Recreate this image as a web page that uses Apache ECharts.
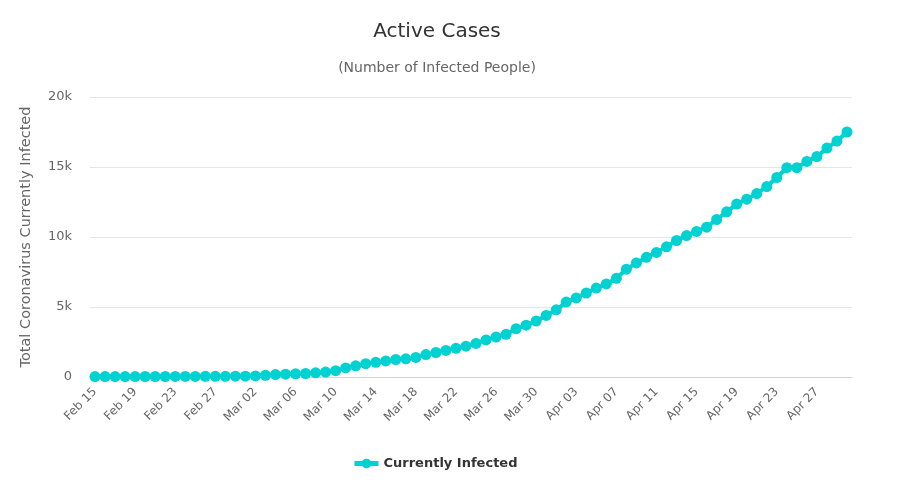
<!DOCTYPE html>
<html>
<head>
<meta charset="utf-8">
<script src="https://cdn.jsdelivr.net/npm/echarts@6/dist/echarts.min.js"></script>
<style>
html,body{margin:0;padding:0;background:#fff;}
#chart{width:900px;height:497px;}
</style>
</head>
<body>
<div id="chart"></div>
<script>
const categories = [
 'Feb 15','Feb 16','Feb 17','Feb 18','Feb 19','Feb 20','Feb 21','Feb 22','Feb 23','Feb 24','Feb 25','Feb 26','Feb 27','Feb 28','Feb 29',
 'Mar 01','Mar 02','Mar 03','Mar 04','Mar 05','Mar 06','Mar 07','Mar 08','Mar 09','Mar 10','Mar 11','Mar 12','Mar 13','Mar 14','Mar 15','Mar 16','Mar 17','Mar 18','Mar 19','Mar 20','Mar 21','Mar 22','Mar 23','Mar 24','Mar 25','Mar 26','Mar 27','Mar 28','Mar 29','Mar 30','Mar 31',
 'Apr 01','Apr 02','Apr 03','Apr 04','Apr 05','Apr 06','Apr 07','Apr 08','Apr 09','Apr 10','Apr 11','Apr 12','Apr 13','Apr 14','Apr 15','Apr 16','Apr 17','Apr 18','Apr 19','Apr 20','Apr 21','Apr 22','Apr 23','Apr 24','Apr 25','Apr 26','Apr 27','Apr 28','Apr 29','Apr 30'
];
const currentlyInfected = [
 30,30,30,30,30,35,35,35,40,40,40,45,45,50,55,
 60,80,120,170,200,230,250,300,350,450,650,800,950,1050,1150,1250,1300,1400,1600,1750,1900,2050,2200,2400,2650,2850,3050,3450,3700,4000,4400,
 4800,5350,5650,6000,6350,6650,7050,7700,8150,8550,8900,9300,9750,10100,10400,10700,11250,11800,12350,12700,13100,13600,14250,14950,14950,15400,15750,16350,16850,17500
];
const yTicks = [0, 5000, 10000, 15000, 20000];
const tickLabels = {0:'0',5000:'5k',10000:'10k',15000:'15k',20000:'20k'};

const chart = echarts.init(document.getElementById('chart'), null, {renderer:'canvas'});
const FONT = '"DejaVu Sans", Verdana, sans-serif';
chart.setOption({
  animation: false,
  backgroundColor: '#ffffff',
  textStyle: {fontFamily: FONT},
  title: [
    {text: 'Active Cases', left: 432, top: 17, textAlign: 'center',
     textStyle: {fontFamily: FONT, fontSize: 20, fontWeight: 'normal', color: '#333333'}},
    {text: '(Number of Infected People)', left: 432, top: 56, textAlign: 'center',
     textStyle: {fontFamily: FONT, fontSize: 14, fontWeight: 'normal', color: '#666666'}}
  ],
  legend: {
    bottom: 22, left: 347,
    itemWidth: 24, itemHeight: 12, itemGap: 5,
    textStyle: {fontFamily: FONT, fontSize: 13, fontWeight: 'bold', color: '#333333'},
    data: [{name: 'Currently Infected', itemStyle: {color: '#00d1d1'}, lineStyle: {width: 5, color: '#00d1d1'}}]
  },
  grid: {left: 90, right: 48, top: 97, bottom: 120, containLabel: false},
  xAxis: {
    type: 'category',
    data: categories,
    boundaryGap: true,
    axisLine: {lineStyle: {color: '#ccd6eb', width: 1}},
    axisTick: {show: false},
    axisLabel: {interval: 3, rotate: 45, color: '#666666', fontSize: 12, fontFamily: FONT, margin: 13}
  },
  yAxis: {
    type: 'value',
    min: 0, max: 20000, interval: 5000,
    name: 'Total Coronavirus Currently Infected',
    nameLocation: 'middle',
    nameGap: 56,
    nameTextStyle: {color: '#666666', fontSize: 14.5, fontFamily: FONT},
    axisLine: {show: false},
    axisTick: {show: false},
    splitLine: {lineStyle: {color: '#e6e6e6', width: 1}},
    axisLabel: {color: '#666666', fontSize: 13, fontFamily: FONT, margin: 18,
      formatter: v => (tickLabels[v] !== undefined ? tickLabels[v] : '')}
  },
  series: [{
    name: 'Currently Infected',
    type: 'line',
    data: currentlyInfected,
    color: '#00d1d1',
    symbol: 'circle',
    symbolSize: 11,
    showAllSymbol: true,
    lineStyle: {width: 4, color: '#00d1d1'},
    itemStyle: {color: '#00d1d1'}
  }]
});
</script>
</body>
</html>
